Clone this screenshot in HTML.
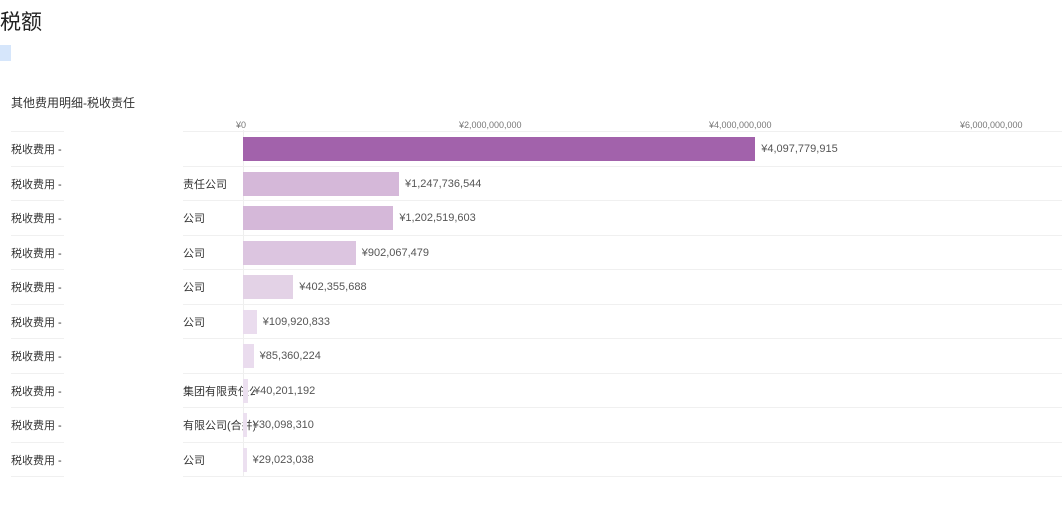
<!DOCTYPE html>
<html><head><meta charset="utf-8"><style>
body{margin:0;width:1062px;height:507px;background:#fff;overflow:hidden;position:relative;font-family:"Liberation Sans","Noto Sans CJK SC",sans-serif;}
.a{position:absolute;white-space:nowrap}
.line{position:absolute;height:1px;background:#f0f0f0}
.lab{font-size:11px;color:#333;height:34px;line-height:38px}
.v{font-size:11px;color:#555;height:34px;line-height:36px}
.bar{position:absolute;height:24px}
.tick{font-size:9px;color:#777}
</style></head><body>
<div class="a" style="left:0;top:6px;font-size:21px;color:#222">税额</div>
<div class="a" style="left:0;top:45px;width:11px;height:16px;background:#d6e6fb"></div>
<div class="a" style="left:11px;top:94px;font-size:12px;color:#333">其他费用明细-税收责任</div>
<div class="a tick" style="left:236px;top:120px">¥0</div>
<div class="a tick" style="left:459px;top:120px">¥2,000,000,000</div>
<div class="a tick" style="left:709px;top:120px">¥4,000,000,000</div>
<div class="a tick" style="left:960px;top:120px">¥6,000,000,000</div>
<div class="a" style="left:243px;top:130px;width:1px;height:346px;background:#eee"></div>
<div id="rows"></div>
<script>
(function(){
var d=[[4097779915,'#a262ab','¥4,097,779,915',''],[1247736544,'#d5b8d9','¥1,247,736,544','责任公司'],[1202519603,'#d5b8d9','¥1,202,519,603','公司'],[902067479,'#dcc5e0','¥902,067,479','公司'],[402355688,'#e3d2e6','¥402,355,688','公司'],[109920833,'#eadcee','¥109,920,833','公司'],[85360224,'#eadcee','¥85,360,224',''],[40201192,'#ece0f0','¥40,201,192','集团有限责任公司'],[30098310,'#ece0f0','¥30,098,310','有限公司(合并)'],[29023038,'#ece0f0','¥29,023,038','公司']];
var h='';
for(var i=0;i<10;i++){var t=131+i*34.5;var w=Math.max(d[i][0]/1e9*125,3);
h+='<div class="line" style="left:11px;top:'+t+'px;width:53px"></div><div class="line" style="left:183px;top:'+t+'px;width:879px"></div>';
h+='<div class="a lab" style="left:11px;top:'+t+'px">税收费用 -</div>';
if(d[i][3])h+='<div class="a lab" style="left:183px;top:'+t+'px;width:72px;overflow:hidden">'+d[i][3]+'</div>';
h+='<div class="bar" style="left:243px;top:'+(t+6)+'px;width:'+w+'px;background:'+d[i][1]+'"></div>';
h+='<div class="a v" style="left:'+(243+w+6)+'px;top:'+t+'px">'+d[i][2]+'</div>';}
h+='<div class="line" style="left:11px;top:476px;width:53px"></div><div class="line" style="left:183px;top:476px;width:879px"></div>';
document.getElementById('rows').innerHTML=h;
})();
</script>
</body></html>
